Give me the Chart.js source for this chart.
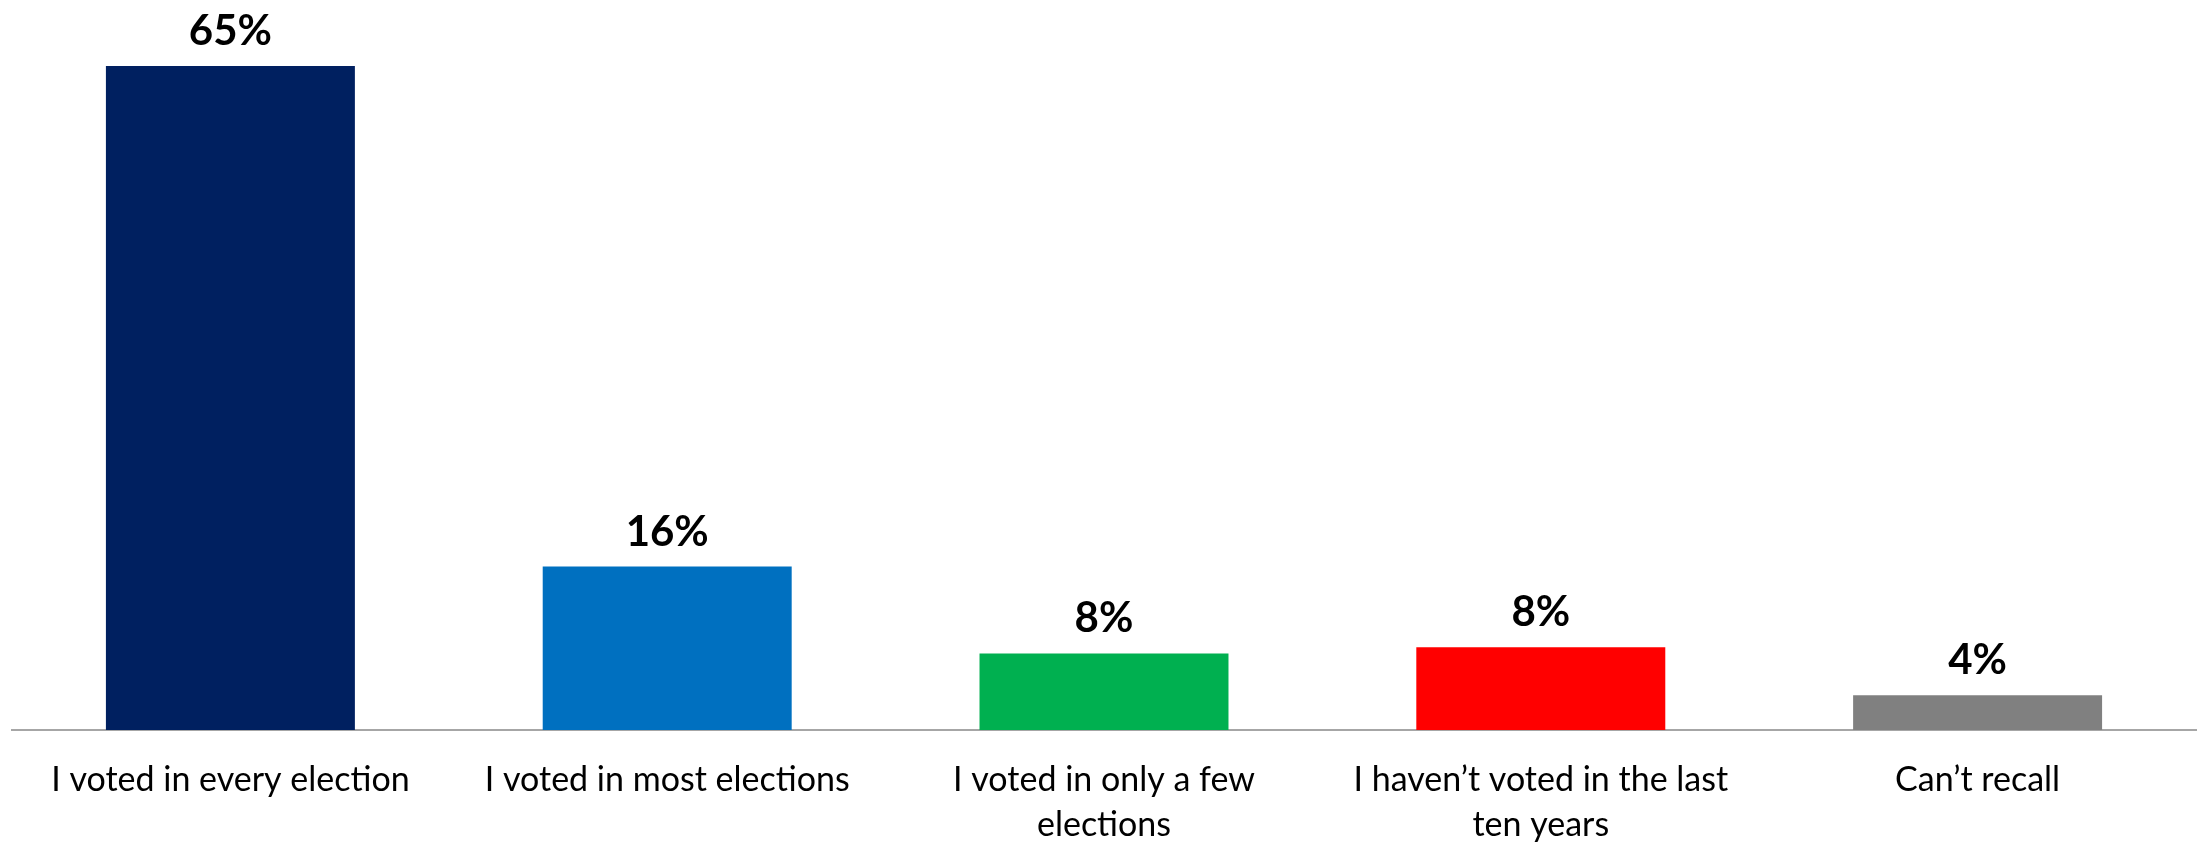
<!DOCTYPE html>
<html>
<head>
    <title>Voting frequency</title>
    <script src="https://cdn.jsdelivr.net/npm/chart.js"></script>
    <style>
        html, body {
            margin: 0;
            padding: 0;
            background: white;
        }
        .wrap {
            width: 2201px;
            height: 842px;
        }
    </style>
</head>
<body>
    <div class="wrap"><canvas id="chart"></canvas></div>

    <script>
        // Data
        const categories = [
            'I voted in every election',
            'I voted in most elections',
            ['I voted in only a few', 'elections'],
            ['I haven\u2019t voted in the last', 'ten years'],
            'Can\u2019t recall'
        ];
        const values = [65, 16, 7.5, 8.1, 3.4];
        const valueLabels = ['65%', '16%', '8%', '8%', '4%'];
        const barColors = ['#002060', '#0070C0', '#00B050', '#FF0000', '#808080'];

        // Draws the bold percentage above each bar
        const topLabels = {
            id: 'topLabels',
            afterDatasetsDraw(chart) {
                const ctx = chart.ctx;
                const meta = chart.getDatasetMeta(0);
                ctx.save();
                ctx.font = 'bold 42px Lato';
                ctx.fillStyle = '#000000';
                ctx.textAlign = 'center';
                ctx.textBaseline = 'alphabetic';
                meta.data.forEach(function(bar, i) {
                    ctx.fillText(valueLabels[i], bar.x, bar.y - 21);
                });
                ctx.restore();
            }
        };

        new Chart(document.getElementById('chart'), {
            type: 'bar',
            data: {
                labels: categories,
                datasets: [{
                    data: values,
                    backgroundColor: barColors,
                    borderWidth: 0,
                    categoryPercentage: 1,
                    barPercentage: 0.57
                }]
            },
            options: {
                responsive: true,
                maintainAspectRatio: false,
                animation: false,
                layout: {
                    padding: { left: 12, right: 5, top: 15, bottom: 0 }
                },
                plugins: {
                    legend: { display: false },
                    tooltip: { enabled: false }
                },
                scales: {
                    y: {
                        display: false,
                        min: 0,
                        max: 70
                    },
                    x: {
                        grid: { display: false },
                        border: { color: '#a6a6a6', width: 2 },
                        ticks: {
                            color: '#000000',
                            font: { family: 'Lato', size: 34, lineHeight: 1.32 },
                            padding: 20,
                            maxRotation: 0,
                            autoSkip: false
                        },
                        afterFit: function(scale) {
                            scale.height = 112;
                        }
                    }
                }
            },
            plugins: [topLabels]
        });
    </script>
</body>
</html>
